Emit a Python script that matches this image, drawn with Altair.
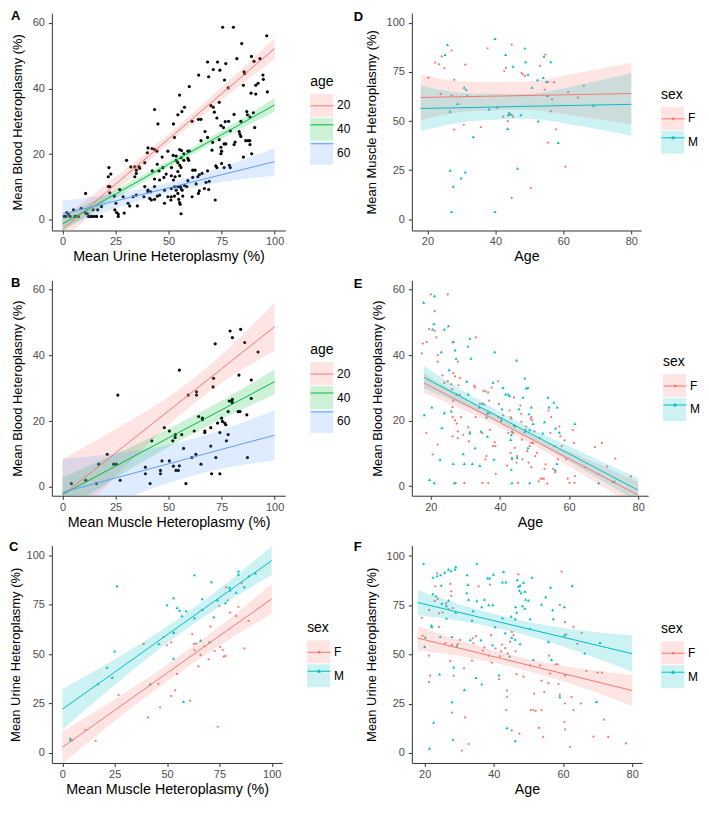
import altair as alt
import pandas as pd

FONT = "Liberation Sans"
RED, GREEN, BLUE, TEAL = "#F8766D", "#00BA38", "#619CFF", "#00BFC4"

# ---------------- Panel A: urine (x) vs blood (y) ----------------
A_URINE = [75.5, 80.6, 96.3, 84.5, 82.2, 89.1, 90.3, 93.1, 68.4, 73.1,
           77.0, 71.1, 74.2, 85.6, 85.9, 64.2, 68.9, 76.4, 94.5, 94.7,
           92.2, 91.1, 85.3, 59.8, 78.1, 91.1, 96.6, 88.9, 55.2, 80.9,
           86.9, 84.1, 70.0, 71.1, 71.6, 73.9, 57.5, 56.3, 54.4, 43.4,
           61.1, 64.1, 65.3, 72.8, 52.3, 45.0, 76.7, 78.3, 87.2, 90.0,
           88.4, 90.6, 74.7, 75.9, 79.1, 83.3, 83.6, 84.1, 68.4, 67.2,
           65.3, 52.8, 70.8, 73.9, 76.2, 77.0, 80.9, 81.4, 86.4, 87.5,
           88.3, 88.4, 89.2, 85.3, 74.7, 75.0, 74.7, 70.5, 40.3, 42.2,
           43.4, 40.0, 44.5, 49.7, 55.2, 56.1, 59.1, 57.2, 59.8, 52.2,
           53.6, 55.9, 59.1, 59.5, 47.0, 53.6, 54.4, 57.2, 30.2, 38.8,
           44.7, 47.3, 51.4, 55.3, 55.9, 32.2, 34.1, 36.1, 34.8, 34.8,
           34.1, 36.4, 42.3, 45.5, 48.9, 54.4, 55.2, 61.4, 62.5, 61.4,
           68.4, 75.0, 72.3, 72.8, 76.2, 78.7, 79.1, 21.9, 22.8, 21.6,
           21.6, 22.3, 51.3, 53.1, 47.8, 43.4, 63.8, 64.5, 65.8, 45.8,
           52.3, 59.1, 67.7, 69.2, 63.0, 27.0, 38.8, 43.4, 40.3, 41.6,
           40.3, 52.8, 54.4, 55.6, 55.9, 57.5, 58.6, 51.3, 48.1, 53.6,
           56.4, 68.9, 64.5, 66.9, 10.9, 22.3, 24.4, 28.6, 33.3, 34.8,
           38.4, 41.1, 41.9, 43.4, 44.7, 45.8, 49.7, 51.3, 52.8, 51.1,
           54.4, 54.8, 56.7, 61.1, 64.1, 72.0, 48.1, 55.2, 55.5, 30.9,
           25.2, 31.7, 35.3, 55.9, 24.7, 25.5, 26.3, 26.3, 29.1, 18.4,
           16.6, 14.5, 8.8, 5.2, 2.0, 2.8, 0.9, 1.6, 3.6, 5.9,
           6.7, 7.5, 10.9, 11.7, 12.2, 13.0, 13.8, 15.0, 16.1, 18.4]
A_BLOOD = [58.7, 58.7, 56.1, 53.7, 49.1, 49.8, 48.3, 49.1, 48.1, 48.1,
           47.6, 45.8, 45.6, 45.1, 44.5, 44.1, 43.6, 42.6, 44.1, 42.8,
           41.6, 41.0, 41.0, 40.6, 40.2, 38.3, 39.0, 38.6, 38.0, 32.1,
           33.0, 30.0, 34.8, 34.3, 32.8, 35.8, 34.3, 33.0, 32.0, 33.6,
           30.0, 30.6, 30.6, 31.0, 29.2, 29.2, 29.9, 30.0, 32.0, 32.6,
           31.3, 28.1, 28.7, 28.1, 27.1, 26.9, 26.1, 25.4, 25.1, 26.9,
           24.1, 25.1, 23.6, 24.4, 23.1, 23.1, 22.9, 23.7, 24.1, 24.1,
           24.1, 22.9, 20.1, 19.1, 22.1, 20.9, 20.1, 21.2, 21.9, 21.7,
           21.4, 20.4, 20.9, 20.9, 21.4, 21.1, 20.9, 20.1, 20.9, 19.6,
           19.4, 18.9, 18.7, 18.1, 19.1, 18.1, 17.4, 18.1, 18.1, 17.4,
           16.9, 15.9, 15.9, 16.6, 15.9, 16.1, 16.1, 16.1, 15.1, 14.1,
           13.1, 15.7, 14.9, 14.9, 13.9, 14.7, 13.4, 15.1, 15.1, 12.9,
           14.9, 17.1, 16.4, 15.9, 15.9, 16.6, 15.9, 15.9, 13.9, 13.1,
           10.1, 10.1, 13.4, 13.1, 12.9, 12.4, 13.1, 13.7, 14.1, 12.1,
           12.1, 11.9, 11.4, 11.7, 10.9, 9.2, 10.1, 10.1, 8.5, 8.5,
           9.0, 10.1, 10.1, 10.1, 9.5, 10.4, 10.1, 9.5, 9.0, 9.0,
           9.0, 9.2, 8.8, 9.5, 8.0, 8.2, 7.2, 7.0, 7.0, 7.5,
           7.0, 6.5, 6.0, 6.2, 7.2, 7.5, 7.0, 7.0, 7.2, 6.0,
           8.0, 6.2, 7.2, 7.0, 8.0, 6.0, 5.0, 5.2, 4.7, 5.0,
           5.0, 4.2, 4.2, 1.8, 3.0, 2.2, 1.7, 1.0, 2.0, 4.0,
           3.0, 3.0, 3.5, 3.0, 2.2, 1.7, 1.0, 1.0, 1.0, 1.0,
           1.0, 1.0, 2.0, 1.8, 1.0, 1.0, 1.0, 1.0, 1.0, 1.0]

# ---------------- Panel B: muscle (x) vs blood (y) ----------------
B_MUSCLE = [4.2, 11.0, 16.0, 17.1, 21.1, 24.1, 25.4, 26.1, 27.2, 39.1, 39.1, 41.3, 42.1,
            46.2, 46.2, 46.9, 48.0, 50.4, 50.4, 52.0, 52.3, 53.1, 53.2, 53.5, 54.6, 55.1,
            55.1, 56.2, 57.1, 58.2, 59.3, 61.0, 62.1, 62.9, 63.2, 63.2, 64.2, 65.3, 66.0,
            66.0, 67.1, 67.1, 69.9, 69.9, 70.3, 71.0, 71.2, 72.0, 72.3, 73.1, 74.2, 74.2,
            75.0, 75.4, 76.5, 77.0, 77.3, 78.1, 78.1, 78.6, 79.0, 79.6, 80.1, 80.1, 80.1,
            82.8, 83.2, 83.7, 84.0, 85.9, 86.9, 87.2, 89.0, 89.0, 92.2]
B_BLOOD = [1.0, 2.0, 1.0, 6.9, 9.9, 6.9, 6.9, 27.9, 2.0, 6.0, 4.0, 1.0, 14.0,
           5.0, 4.0, 7.9, 18.0, 7.9, 17.0, 14.0, 6.3, 15.0, 15.9, 5.0, 5.0, 6.4,
           35.5, 15.9, 11.7, 1.0, 27.9, 8.9, 17.0, 9.9, 28.9, 27.9, 21.4, 6.9, 20.9,
           20.4, 17.0, 16.5, 12.4, 18.0, 4.0, 30.4, 33.0, 43.5, 8.9, 19.4, 16.5, 4.0,
           20.9, 19.9, 19.4, 18.9, 14.0, 22.9, 15.9, 26.1, 47.4, 26.1, 45.4, 26.6, 25.6,
           22.9, 34.0, 22.9, 47.9, 43.9, 21.9, 8.9, 32.5, 26.9, 41.0]

# ---------------- Panel C: muscle (x) vs urine (y), by sex ----------------
C_F_MUSCLE = [4.8, 11.0, 15.9, 26.9, 38.8, 40.9, 45.9, 46.7, 48.3, 49.9,
              52.0, 52.0, 53.3, 53.9, 54.8, 62.0, 62.8, 63.1, 63.9, 65.0,
              66.0, 67.9, 61.0, 69.8, 70.7, 72.7, 74.2, 75.0, 75.4, 76.6,
              77.1, 77.9, 78.2, 79.0, 80.1, 83.0, 84.1, 85.7, 86.9, 88.9]
C_F_URINE = [6.4, 11.6, 6.1, 29.3, 55.2, 18.0, 35.0, 23.1, 58.7, 54.5,
             56.0, 28.8, 60.7, 31.7, 40.0, 60.2, 55.2, 52.1, 55.4, 43.8,
             49.6, 54.0, 26.4, 47.4, 64.0, 51.6, 13.2, 74.4, 53.7, 52.1,
             48.8, 49.1, 83.8, 77.2, 71.1, 69.4, 74.0, 86.0, 52.9, 66.9]
C_M_MUSCLE = [3.8, 4.0, 17.0, 21.3, 23.8, 25.0, 26.1, 42.0, 46.1, 50.0,
              53.1, 53.1, 53.1, 54.8, 56.0, 57.1, 59.1, 63.1, 63.1, 66.0,
              66.8, 66.8, 71.2, 72.3, 74.1, 77.9, 79.8, 80.1, 83.0, 84.1,
              84.1, 86.9, 89.0, 92.2, 57.9, 70.3]
C_M_URINE = [7.3, 6.4, 35.0, 43.3, 38.3, 51.6, 84.6, 35.0, 55.4, 75.0,
             78.5, 61.0, 47.9, 73.6, 72.2, 69.4, 71.9, 90.1, 68.4, 57.0,
             72.6, 78.0, 86.6, 68.9, 77.5, 76.0, 83.8, 82.5, 81.3, 92.1,
             90.4, 84.1, 89.6, 91.1, 26.0, 56.2]

# ---------------- Panel D: age (x) vs muscle (y), by sex ----------------
D_F_AGE = [20.3, 22.3, 23.4, 24.2, 25.0, 27.1, 23.9, 27.1, 27.9, 27.9,
           31.1, 30.7, 35.7, 37.7, 42.6, 43.1, 44.8, 42.3, 43.6, 44.0,
           44.8, 45.2, 44.8, 47.7, 48.0, 48.7, 49.6, 50.4, 53.1, 54.7,
           54.5, 55.5, 55.5, 56.3, 56.7, 57.3, 57.9, 60.6, 61.4, 64.3, 66.0]
D_F_MUSCLE = [72.1, 79.8, 78.9, 82.9, 76.9, 85.9, 63.8, 63.0, 71.0, 45.6,
              78.8, 48.1, 46.9, 87.1, 75.5, 77.1, 88.9, 52.2, 49.9, 54.1,
              53.1, 52.2, 10.8, 74.6, 73.8, 73.0, 63.0, 15.8, 78.1, 83.9,
              66.0, 69.8, 39.0, 54.9, 61.0, 69.8, 45.8, 26.7, 64.8, 61.9, 68.0]
D_M_AGE = [25.9, 25.2, 26.7, 26.7, 27.6, 27.1, 28.9, 30.8, 31.4, 31.7,
           31.1, 29.9, 33.5, 38.1, 39.9, 40.5, 39.9, 43.0, 43.6, 43.8,
           44.3, 45.2, 46.5, 47.5, 48.7, 48.9, 49.6, 50.8, 52.4, 52.6,
           54.1, 54.3, 55.0, 55.3, 56.3, 58.5, 68.9]
D_M_MUSCLE = [88.9, 83.9, 54.9, 24.9, 16.7, 3.8, 58.9, 67.2, 66.0, 63.0,
              24.0, 20.9, 42.0, 56.1, 92.0, 57.2, 3.8, 83.9, 46.1, 53.1,
              53.6, 77.9, 25.9, 53.1, 87.1, 80.1, 73.8, 67.2, 71.0, 49.9,
              72.1, 82.9, 70.1, 63.0, 80.1, 39.0, 58.0]

# ---------------- Panel E: age (x) vs blood (y), by sex ----------------
E_F_AGE = [17.4, 17.7, 18.8, 19.5, 20.0, 21.1, 21.1, 21.6, 22.0, 22.0,
           24.9, 23.4, 23.9, 24.9, 25.9, 26.3, 26.5, 27.0, 27.8, 28.0,
           28.4, 18.7, 20.5, 22.0, 26.2, 26.5, 26.3, 26.3, 27.0, 27.5,
           26.3, 27.8, 27.8, 28.4, 28.7, 29.4, 29.7, 27.2, 30.8, 31.0,
           31.3, 32.6, 32.8, 33.0, 33.0, 34.2, 34.9, 35.2, 35.5, 35.8,
           34.9, 36.6, 35.8, 36.1, 36.6, 36.9, 36.9, 37.1, 37.6, 38.0,
           38.7, 38.5, 38.8, 39.5, 39.7, 39.5, 40.4, 40.9, 42.1, 42.4,
           42.8, 43.1, 43.3, 43.1, 43.5, 43.8, 44.1, 44.3, 44.3, 44.8,
           45.0, 45.2, 45.9, 46.2, 46.2, 46.4, 46.5, 47.4, 47.6, 47.9,
           48.3, 48.6, 48.9, 49.1, 49.3, 49.1, 49.6, 49.1, 50.0, 50.2,
           50.7, 51.2, 51.5, 51.8, 52.2, 52.7, 52.9, 53.2, 53.7, 54.1,
           54.6, 54.8, 55.4, 55.8, 56.0, 56.8, 57.2, 57.5, 57.9, 59.2,
           58.7, 59.6, 60.1, 61.1, 61.4, 61.6, 61.7, 64.7, 67.5, 68.3,
           69.5, 71.0, 73.4, 77.9, 72.6]
E_F_BLOOD = [40.5, 43.5, 44.0, 47.9, 58.5, 53.4, 47.4, 45.4, 40.0, 38.0,
             58.5, 33.8, 31.5, 32.0, 31.1, 43.9, 34.5, 33.5, 38.0, 30.8,
             33.0, 16.2, 9.7, 12.7, 29.6, 26.1, 24.1, 21.1, 20.1, 19.1,
             15.2, 16.7, 14.7, 27.9, 21.1, 15.7, 1.0, 1.0, 18.0, 13.7,
             16.5, 30.6, 30.1, 45.4, 21.1, 25.1, 16.2, 29.1, 24.9, 28.9,
             1.0, 1.0, 8.2, 9.2, 28.6, 26.1, 22.3, 17.2, 30.1, 12.2,
             12.2, 13.4, 3.8, 32.0, 25.1, 21.1, 20.6, 21.6, 6.3, 16.2,
             23.1, 21.1, 20.6, 10.2, 8.2, 16.2, 27.1, 18.2, 11.7, 7.2,
             9.2, 1.0, 24.6, 22.1, 19.6, 14.2, 8.2, 17.2, 18.2, 10.7,
             7.2, 12.2, 20.6, 21.1, 20.1, 13.2, 13.2, 5.8, 16.7, 9.2,
             10.2, 1.5, 14.7, 2.3, 2.3, 2.3, 5.3, 6.7, 0.8, 23.1,
             16.2, 21.1, 5.3, 12.2, 4.3, 8.2, 18.2, 15.2, 12.2, 8.2,
             14.0, 2.3, 1.0, 17.2, 13.2, 1.0, 3.1, 5.8, 11.9, 3.8,
             13.2, 6.0, 8.4, 3.0, 1.3]
E_M_AGE = [17.9, 21.1, 20.9, 20.5, 18.1, 20.3, 19.6, 21.0, 22.7, 23.2,
           23.0, 23.9, 23.9, 25.1, 25.3, 25.9, 26.5, 27.0, 27.3, 26.5,
           26.8, 27.5, 29.4, 29.7, 30.4, 30.8, 30.8, 31.3, 31.6, 31.3,
           32.0, 32.8, 34.0, 34.2, 34.5, 35.0, 36.1, 36.4, 36.4, 38.0,
           38.3, 38.5, 40.6, 40.4, 40.9, 41.6, 42.4, 42.8, 43.1, 43.3,
           43.5, 43.3, 43.5, 43.5, 44.1, 44.8, 45.0, 45.5, 46.7, 47.2,
           47.2, 47.6, 48.1, 48.1, 48.4, 48.6, 48.6, 49.1, 49.6, 52.4,
           52.9, 53.9, 54.2, 55.6, 56.1, 56.6, 57.2, 56.0, 56.5, 61.7,
           68.6, 73.1]
E_M_BLOOD = [56.1, 58.1, 49.6, 47.9, 21.8, 24.1, 2.0, 1.0, 8.2, 17.9,
             41.0, 47.9, 22.4, 48.9, 35.5, 22.9, 44.1, 41.5, 39.0, 6.9,
             1.0, 28.1, 9.9, 6.9, 32.0, 28.1, 42.7, 45.1, 39.0, 16.2,
             6.9, 11.7, 24.1, 6.3, 16.7, 25.3, 21.1, 22.3, 15.2, 31.7,
             8.2, 41.0, 23.6, 20.1, 30.1, 28.1, 28.1, 27.6, 14.2, 15.7,
             16.7, 5.1, 8.7, 1.0, 18.7, 38.5, 8.7, 23.6, 27.1, 33.0,
             16.7, 29.9, 30.1, 11.7, 22.1, 1.0, 17.2, 24.1, 19.1, 16.2,
             19.6, 27.1, 24.1, 25.6, 17.7, 24.1, 16.4, 5.0, 6.9, 19.1,
             1.0, 1.5]

# ---------------- Panel F: age (x) vs urine (y), by sex ----------------
F_F_AGE = [19.2, 19.4, 21.3, 22.9, 23.6, 23.8, 24.2, 23.1, 25.2, 26.2,
           26.9, 27.4, 27.7, 27.7, 28.1, 21.2, 21.3, 21.6, 26.0, 27.4,
           28.4, 27.9, 29.6, 30.3, 31.4, 31.7, 32.7, 30.8, 33.9, 34.1,
           34.8, 35.6, 37.3, 38.5, 38.9, 39.2, 39.4, 41.6, 41.8, 42.1,
           43.3, 44.7, 45.2, 45.7, 46.3, 47.1, 43.8, 43.8, 43.6, 45.2,
           46.6, 47.4, 48.6, 50.5, 50.7, 51.4, 51.7, 52.1, 53.4, 53.8,
           53.8, 54.6, 53.1, 54.3, 56.0, 56.3, 55.8, 57.9, 58.5, 58.7,
           59.1, 59.6, 59.1, 60.6, 60.9, 60.6, 60.4, 60.6, 60.6, 62.0,
           62.5, 63.0, 63.0, 64.2, 65.4, 65.2, 66.8, 68.8, 70.0, 71.3,
           71.8, 73.1, 78.2, 24.2, 27.9, 33.7, 36.8, 40.5, 42.4, 44.0]
F_F_URINE = [68.6, 59.5, 72.6, 77.2, 91.2, 78.2, 70.9, 84.6, 71.4, 75.9,
             73.1, 85.8, 82.1, 79.7, 73.6, 49.4, 35.9, 39.2, 55.7, 46.6,
             39.2, 20.5, 55.2, 57.4, 43.0, 18.0, 4.5, 1.2, 58.2, 55.7,
             59.3, 84.6, 53.6, 49.4, 85.5, 59.8, 45.8, 37.5, 49.1, 51.6,
             53.2, 56.5, 61.5, 59.8, 51.6, 90.7, 28.4, 31.7, 21.8, 11.4,
             40.0, 9.8, 38.7, 44.5, 21.8, 21.8, 30.1, 21.3, 44.5, 36.7,
             21.8, 30.9, 12.7, 8.1, 49.4, 40.3, 35.4, 45.0, 45.0, 35.0,
             75.2, 92.1, 29.6, 66.4, 60.2, 39.2, 15.7, 11.9, 25.1, 3.1,
             28.4, 21.8, 64.0, 55.4, 61.0, 25.1, 41.7, 8.3, 40.8, 40.8,
             16.9, 8.1, 4.8, 64.0, 54.9, 46.9, 52.0, 53.0, 55.0, 50.5]
F_M_AGE = [19.7, 22.4, 23.6, 24.6, 25.8, 26.9, 27.6, 29.0, 28.8, 32.3,
           35.1, 38.2, 38.8, 39.9, 42.8, 42.5, 43.5, 46.8, 48.6, 47.6,
           47.1, 47.4, 47.9, 49.0, 48.3, 49.2, 50.0, 51.0, 22.4, 23.3,
           24.8, 25.0, 26.3, 26.9, 29.0, 32.2, 32.5, 32.7, 33.7, 34.0,
           35.1, 36.5, 37.3, 38.5, 39.7, 40.4, 42.5, 45.0, 46.2, 46.3,
           46.6, 49.0, 50.5, 50.5, 53.8, 55.0, 56.4, 57.0, 57.2, 60.4,
           60.4, 62.7, 20.2, 22.0, 22.1, 24.5, 26.3, 27.9, 29.3, 33.2,
           36.3, 39.6, 43.3, 45.2, 46.2, 47.6, 55.8, 56.7, 66.3, 70.7,
           20.0, 24.3, 28.4, 27.9, 22.6, 21.4, 28.2, 31.5, 34.8, 36.5,
           41.5, 44.6, 43.8, 46.2, 51.4, 59.1, 69.7]
F_M_URINE = [96.2, 89.1, 89.9, 90.4, 91.7, 93.2, 92.4, 94.5, 93.2, 90.4,
             96.2, 88.8, 88.8, 90.7, 92.1, 86.8, 86.8, 87.9, 86.6, 85.1,
             84.6, 82.5, 81.3, 82.1, 74.7, 78.0, 77.5, 89.1, 80.8, 79.7,
             85.1, 76.0, 74.7, 77.5, 71.4, 81.3, 85.5, 78.0, 67.3, 72.2,
             77.2, 74.2, 78.0, 75.2, 75.2, 64.0, 68.6, 69.3, 68.1, 74.2,
             71.4, 73.4, 68.1, 63.1, 75.5, 79.2, 84.1, 72.6, 68.1, 74.2,
             59.8, 85.0, 58.7, 64.8, 64.0, 59.0, 68.4, 59.0, 54.4, 57.4,
             57.4, 54.9, 61.0, 58.7, 57.7, 55.4, 56.5, 47.4, 50.7, 56.0,
             54.0, 40.0, 43.6, 25.9, 15.5, 2.3, 6.9, 32.1, 38.3, 35.0,
             39.5, 49.1, 12.7, 6.1, 47.4, 28.4, 26.0]

# ---------------- fitted lines and confidence bands ----------------
HET_X = [0, 25, 50, 75, 100]
AGE_X = [18, 33.5, 49, 64.5, 80]
A_FIT = {"20": [-3.0, 10.8, 24.6, 38.4, 52.2], "40": [-1.3, 7.8, 16.9, 25.9, 35.0], "60": [1.7, 5.7, 9.7, 13.7, 17.7]}
A_LO = {"20": [-6.5, 8.6, 23.1, 36.4, 49.0], "40": [-3.6, 6.5, 15.9, 24.7, 32.9], "60": [-2.3, 3.4, 8.1, 11.4, 13.5]}
A_HI = {"20": [0.5, 13.0, 26.1, 40.4, 55.4], "40": [1.0, 9.1, 17.9, 27.1, 37.1], "60": [5.7, 8.0, 11.3, 16.0, 21.9]}
B_FIT = {"20": [-2.5, 10.3, 23.1, 35.9, 48.7], "40": [-2.3, 6.3, 14.9, 23.4, 32.0], "60": [-1.7, 2.7, 7.0, 11.4, 15.7]}
B_LO = {"20": [-13.4, 3.1, 18.9, 31.6, 41.4], "40": [-7.4, 2.6, 12.1, 20.6, 28.2], "60": [-11.8, -4.8, 1.2, 5.5, 8.1]}
B_HI = {"20": [8.4, 17.5, 27.3, 40.2, 56.0], "40": [2.8, 10.0, 17.7, 26.2, 35.8], "60": [8.4, 10.2, 12.8, 17.3, 23.3]}
C_FIT = {"F": [2.8, 21.6, 40.4, 59.2, 78.0], "M": [22.1, 40.9, 59.8, 78.6, 97.4]}
C_LO = {"F": [-5.5, 16.1, 36.1, 54.4, 70.5], "M": [11.8, 34.4, 55.6, 74.1, 90.1]}
C_HI = {"F": [11.1, 27.1, 44.7, 64.0, 85.5], "M": [32.4, 47.4, 64.0, 83.1, 104.7]}
D_FIT = {"F": [62.0, 62.5, 63.0, 63.5, 64.0], "M": [56.4, 56.9, 57.5, 58.0, 58.5]}
D_LO = {"F": [50.4, 55.1, 55.8, 52.4, 48.3], "M": [44.8, 50.0, 51.2, 47.6, 42.5]}
D_HI = {"F": [73.6, 69.9, 70.2, 74.6, 79.7], "M": [68.1, 63.9, 63.8, 68.4, 74.5]}
E_FIT = {"F": [31.5, 23.0, 14.4, 5.9, -2.7], "M": [33.2, 24.6, 16.0, 7.4, -1.2]}
E_LO = {"F": [28.5, 21.3, 13.0, 3.2, -6.7], "M": [29.8, 22.7, 14.4, 4.8, -4.8]}
E_HI = {"F": [34.5, 24.7, 15.8, 8.6, 1.3], "M": [36.6, 26.5, 17.6, 10.0, 2.4]}
F_FIT = {"F": [58.3, 51.7, 45.0, 38.4, 31.7], "M": [76.4, 69.9, 63.4, 56.9, 50.4]}
F_LO = {"F": [52.1, 48.1, 42.0, 33.8, 23.9], "M": [70.0, 66.1, 59.9, 51.4, 41.2]}
F_HI = {"F": [64.5, 55.3, 48.0, 43.0, 39.5], "M": [82.8, 73.7, 66.9, 62.4, 59.6]}

AGE_GROUPS = ["20", "40", "60"]
AGE_COLORS = [RED, GREEN, BLUE]
SEX_GROUPS = ["F", "M"]
SEX_COLORS = [RED, TEAL]
HET_TICKS = [0, 25, 50, 75, 100]
AGE_TICKS = [20, 40, 60, 80]
BLOOD_TICKS = [0, 20, 40, 60]

# legend key glyphs: line with a small marker (circle / triangle)
KEY_F = "M-1,0H1M0.09,0A0.09,0.09,0,1,1,-0.09,0A0.09,0.09,0,1,1,0.09,0Z"
KEY_M = "M-1,0H1M0,-0.13L0.12,0.08L-0.12,0.08Z"

LEG_TITLE_SIZE = 14
LEG_TITLE_PAD = 5


def axis_common(title, values, label_pad, title_pad, title_size):
    return alt.Axis(title=title, values=values, grid=False, labelFlush=False, labelOverlap=False,
                    domainColor="#333333", domainWidth=1, tickColor="#333333", tickWidth=1, tickSize=3.5,
                    labelColor="#4D4D4D", labelFontSize=11, labelPadding=label_pad,
                    titleColor="black", titleFontSize=title_size, titleFontWeight="normal",
                    titlePadding=title_pad)


def legend_fill(title, lx, ly):
    return alt.Legend(title=title, orient="none", legendX=lx, legendY=ly, padding=0,
                      titleColor="black", labelColor="black", titleFontSize=LEG_TITLE_SIZE,
                      titleFontWeight="normal", titlePadding=LEG_TITLE_PAD, labelFontSize=12,
                      labelOffset=4, rowPadding=1, symbolSize=529, symbolType="square",
                      symbolStrokeWidth=0, symbolOpacity=0.2)


def legend_line(lx, ly):
    return alt.Legend(title=None, orient="none", legendX=lx, legendY=ly + LEG_TITLE_SIZE + LEG_TITLE_PAD,
                      padding=0, labelExpr="''", labelFontSize=12, labelOffset=4, rowPadding=1,
                      symbolSize=529, symbolStrokeWidth=1)


def make_panel(letter, lxy, xdom, ydom, w, h, xticks, yticks, xtitle, ytitle, ytitle_pad,
               scatter, rib_x, fit, lo, hi, groups, colors, gtitle, leg_xy, markers):
    xs = alt.Scale(domain=xdom, nice=False, zero=False)
    ys = alt.Scale(domain=ydom, nice=False, zero=False)
    ax = axis_common(xtitle, xticks, 2, 3, 14.3)
    ay = axis_common(ytitle, yticks, 4, ytitle_pad, 13)
    keys2 = [g.lower() + "_" for g in groups]
    rows = []
    for g, g2 in zip(groups, keys2):
        for xv, f, l, hv in zip(rib_x, fit[g], lo[g], hi[g]):
            rows.append({"x": xv, "fit": f, "lo": l, "hi": hv, "g": g, "g2": g2})
    rib = pd.DataFrame(rows)

    X = alt.X("x:Q", scale=xs, axis=ax)
    layers = []
    for px, py, shape, color, size in scatter:
        d = pd.DataFrame({"x": px, "y": py})
        if shape == "circle":
            m = alt.Chart(d).mark_circle(size=size, color=color, opacity=1)
        else:
            m = alt.Chart(d).mark_point(shape="triangle-up", filled=True, size=size, color=color, opacity=1)
        layers.append(m.encode(x=X, y=alt.Y("y:Q", scale=ys, axis=ay)))

    area = alt.Chart(rib).mark_area(opacity=0.2, clip=True, interpolate="monotone").encode(
        x=X, y=alt.Y("lo:Q", scale=ys, axis=ay), y2="hi:Q",
        fill=alt.Fill("g:N", scale=alt.Scale(domain=groups, range=colors),
                      legend=legend_fill(gtitle, leg_xy[0], leg_xy[1])))
    layers.append(area)

    L2 = legend_line(leg_xy[0], leg_xy[1])
    sc = alt.Scale(domain=keys2, range=colors)
    line = alt.Chart(rib).mark_line(clip=True, strokeWidth=1).encode(
        x=X, y=alt.Y("fit:Q", scale=ys, axis=ay),
        stroke=alt.Stroke("g2:N", scale=sc, legend=L2))
    layers.append(line)
    if markers:
        dummy = alt.Chart(rib).transform_filter("false").mark_point(filled=True, strokeWidth=1, opacity=1).encode(
            x=X, y=alt.Y("fit:Q", scale=ys, axis=ay),
            color=alt.Color("g2:N", scale=sc, legend=L2),
            stroke=alt.Stroke("g2:N", scale=sc, legend=L2),
            shape=alt.Shape("g2:N", scale=alt.Scale(domain=keys2, range=[KEY_F, KEY_M]), legend=L2))
        layers.append(dummy)

    lab = alt.Chart(pd.DataFrame({"t": [letter]})).mark_text(
        fontSize=13, fontWeight="bold", align="left", baseline="alphabetic", color="black").encode(
        text="t:N", x=alt.value(lxy[0]), y=alt.value(lxy[1]))
    layers.append(lab)
    return alt.layer(*layers).properties(width=w, height=h)


def sex_scatter(fx, fy, mx, my):
    return [(fx, fy, "circle", RED, 5), (mx, my, "triangle", TEAL, 10)]


H1, H2, H3 = 218, 216, 218

pA = make_panel("A", (-41, 6.7), [-5, 105], [-3.3, 63.0], 234, H1, HET_TICKS, BLOOD_TICKS,
                "Mean Urine Heteroplasmy (%)", "Mean Blood Heteroplasmy (%)", 8,
                [(A_URINE, A_BLOOD, "circle", "black", 10)], HET_X, A_FIT, A_LO, A_HI,
                AGE_GROUPS, AGE_COLORS, "age", (259, 62), False)
pB = make_panel("B", (-41, 7), [-5, 105], [-2.7, 62.8], 234, H2, HET_TICKS, BLOOD_TICKS,
                "Mean Muscle Heteroplasmy (%)", "Mean Blood Heteroplasmy (%)", 8,
                [(B_MUSCLE, B_BLOOD, "circle", "black", 10)], HET_X, B_FIT, B_LO, B_HI,
                AGE_GROUPS, AGE_COLORS, "age", (259, 63), False)
pC = make_panel("C", (-43, 5), [-5, 105], [-5.1, 105], 231, H3, HET_TICKS, HET_TICKS,
                "Mean Muscle Heteroplasmy (%)", "Mean Urine Heteroplasmy (%)", 4,
                sex_scatter(C_F_MUSCLE, C_F_URINE, C_M_MUSCLE, C_M_URINE), HET_X, C_FIT, C_LO, C_HI,
                SEX_GROUPS, SEX_COLORS, "sex", (256, 76), True)
pD = make_panel("D", (-58.3, 8.3), [15.4, 82.9], [-5.8, 105], 230, H1, AGE_TICKS, HET_TICKS,
                "Age", "Mean Muscle Heteroplasmy (%)", 8,
                sex_scatter(D_F_AGE, D_F_MUSCLE, D_M_AGE, D_M_MUSCLE), AGE_X, D_FIT, D_LO, D_HI,
                SEX_GROUPS, SEX_COLORS, "sex", (250, 75), True)
pE = make_panel("E", (-58.3, 7.3), [14.5, 82.9], [-2.9, 62.8], 237, H2, AGE_TICKS, BLOOD_TICKS,
                "Age", "Mean Blood Heteroplasmy (%)", 8,
                sex_scatter(E_F_AGE, E_F_BLOOD, E_M_AGE, E_M_BLOOD), AGE_X, E_FIT, E_LO, E_HI,
                SEX_GROUPS, SEX_COLORS, "sex", (252, 75), True)
pF = make_panel("F", (-58.3, 5), [16.3, 82.9], [-5.1, 105.3], 231, H3, AGE_TICKS, HET_TICKS,
                "Age", "Mean Urine Heteroplasmy (%)", 8,
                sex_scatter(F_F_AGE, F_F_URINE, F_M_AGE, F_M_URINE), AGE_X, F_FIT, F_LO, F_HI,
                SEX_GROUPS, SEX_COLORS, "sex", (250, 77), True)

IND = dict(fill="independent", stroke="independent", color="independent", shape="independent")

chart = alt.ConcatChart(
    concat=[pA, pD, pB, pE, pC, pF], columns=2,
    bounds="flush", align="each",
    spacing={"row": 50, "column": 127},
    padding=0,
).resolve_scale(**IND).resolve_legend(**IND)
chart = chart.configure(font=FONT).configure_view(stroke="transparent")

chart.save("out.html", embed_options={"renderer": "svg", "actions": False})
